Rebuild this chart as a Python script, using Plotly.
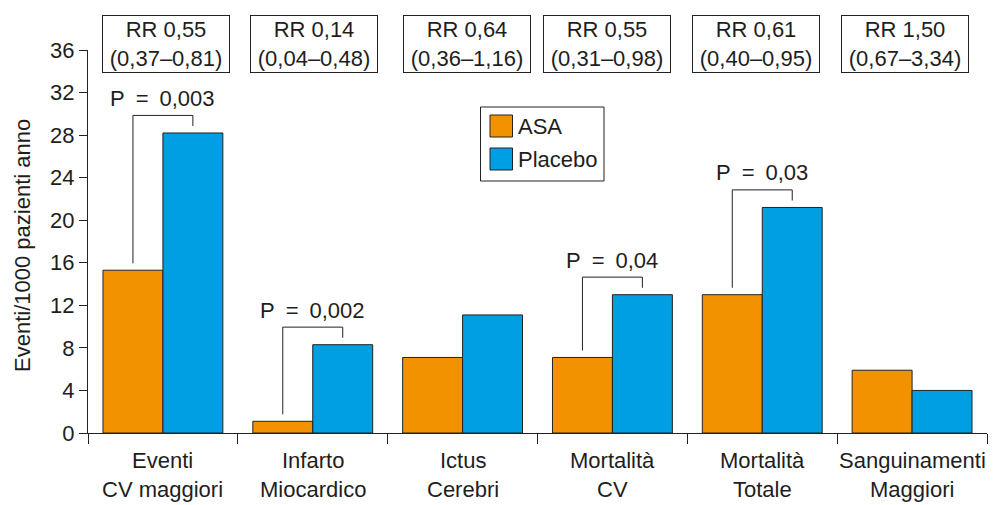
import plotly.graph_objects as go

# ---- data -------------------------------------------------------------
categories = [
    "Eventi\nCV maggiori",
    "Infarto\nMiocardico",
    "Ictus\nCerebri",
    "Mortalità\nCV",
    "Mortalità\nTotale",
    "Sanguinamenti\nMaggiori",
]
series_names = ["ASA", "Placebo"]
asa = [15.3, 1.1, 7.1, 7.1, 13.0, 5.9]
placebo = [28.2, 8.3, 11.1, 13.0, 21.2, 4.0]
rr_values = ["0,55", "0,14", "0,64", "0,55", "0,61", "1,50"]
rr_ci = ["0,37–0,81", "0,04–0,48", "0,36–1,16", "0,31–0,98", "0,40–0,95", "0,67–3,34"]
p_values = ["0,003", "0,002", None, "0,04", "0,03", None]
y_ticks = [0, 4, 8, 12, 16, 20, 24, 28, 32, 36]
y_title = "Eventi/1000 pazienti anno"

# ---- style ------------------------------------------------------------
W, H = 993, 505
ML, MR, MT, MB = 88, 6, 50, 72
PW, PH = W - ML - MR, H - MT - MB
FONT = "Liberation Sans"
FS = 22
TXT = "#1e1e1e"
EDGE = "#222222"
COLORS = ["#F39200", "#009FE3"]
rr_shift = [3, 1, 4, -5, -6, -7]
ENSP = "\u2002"


def px_x(x):
    return (x - ML) / PW


def px_y(y):
    return (H - MB - y) / PH


xcat = [c.replace("\n", " ") for c in categories]

fig = go.Figure()
for name, vals, col in zip(series_names, [asa, placebo], COLORS):
    fig.add_trace(go.Bar(
        x=xcat, y=vals, name=name, showlegend=False,
        marker=dict(color=col, line=dict(color=EDGE, width=1)),
    ))

annotations = []
shapes = []

# category labels (two lines each)
for i, c in enumerate(categories):
    lines = c.split("\n")
    for k, ln in enumerate(lines):
        annotations.append(dict(
            x=i, xref="x", y=px_y(461 + 28 * k), yref="paper",
            text=ln, showarrow=False, xanchor="center", yanchor="middle",
            font=dict(family=FONT, size=FS, color=TXT),
        ))

# relative-risk boxes
for i, (rv, ci) in enumerate(zip(rr_values, rr_ci)):
    annotations.append(dict(
        x=i, xref="x", y=px_y(44), yref="paper", xshift=rr_shift[i],
        text=f"RR {rv}<br>({ci})", showarrow=False,
        xanchor="center", yanchor="middle",
        width=126, height=56, borderpad=0, borderwidth=1, bordercolor=EDGE,
        font=dict(family=FONT, size=FS, color=TXT),
    ))

# significance brackets
GAP, RISE, LAB = 0.65, 1.65, 1.6
for i, p in enumerate(p_values):
    if p is None:
        continue
    top = max(asa[i], placebo[i]) + RISE
    path = (f"M {i - 0.2},{asa[i] + GAP} L {i - 0.2},{top} "
            f"L {i + 0.2},{top} L {i + 0.2},{placebo[i] + GAP}")
    shapes.append(dict(type="path", xref="x", yref="y", path=path,
                       line=dict(color=EDGE, width=1)))
    annotations.append(dict(
        x=i, xref="x", y=top + LAB, yref="y",
        text=f"P{ENSP}={ENSP}{p}", showarrow=False,
        xanchor="center", yanchor="middle",
        font=dict(family=FONT, size=FS, color=TXT),
    ))

# legend box
shapes.append(dict(type="rect", xref="paper", yref="paper",
                   x0=px_x(480.5), x1=px_x(604), y0=px_y(107), y1=px_y(181),
                   line=dict(color=EDGE, width=1), fillcolor="white"))
for k, (name, col) in enumerate(zip(series_names, COLORS)):
    yc = 126 + 33 * k
    shapes.append(dict(type="rect", xref="paper", yref="paper",
                       x0=px_x(490), x1=px_x(512.5),
                       y0=px_y(yc - 11), y1=px_y(yc + 11),
                       line=dict(color=EDGE, width=1), fillcolor=col))
    annotations.append(dict(
        x=px_x(516), xref="paper", y=px_y(yc), yref="paper",
        text=name, showarrow=False, xanchor="left", yanchor="middle",
        font=dict(family=FONT, size=FS, color=TXT),
    ))

# y-axis title
annotations.append(dict(
    x=px_x(22), xref="paper", y=px_y(246), yref="paper",
    text=y_title, showarrow=False, textangle=-90,
    xanchor="center", yanchor="middle",
    font=dict(family=FONT, size=FS, color=TXT),
))

fig.update_layout(
    width=W, height=H, autosize=False,
    margin=dict(l=ML, r=MR, t=MT, b=MB, pad=0),
    paper_bgcolor="white", plot_bgcolor="white",
    barmode="group", bargap=0.2, bargroupgap=0,
    font=dict(family=FONT, size=FS, color=TXT),
    annotations=annotations, shapes=shapes,
    showlegend=False,
    xaxis=dict(
        type="category", range=[-0.5, 5.5], tickson="boundaries",
        ticks="outside", ticklen=10, tickwidth=1, tickcolor=EDGE,
        showline=True, linecolor=EDGE, linewidth=1,
        showticklabels=False, showgrid=False, zeroline=False,
    ),
    yaxis=dict(
        range=[0, 36], tickvals=y_ticks, ticktext=[str(t) for t in y_ticks],
        ticks="outside", ticklen=8, tickwidth=1, tickcolor=EDGE,
        showline=True, linecolor=EDGE, linewidth=1,
        showgrid=False, zeroline=False,
        tickfont=dict(family=FONT, size=FS, color=TXT),
    ),
)

fig.write_html("out.html", config={"displayModeBar": False})
